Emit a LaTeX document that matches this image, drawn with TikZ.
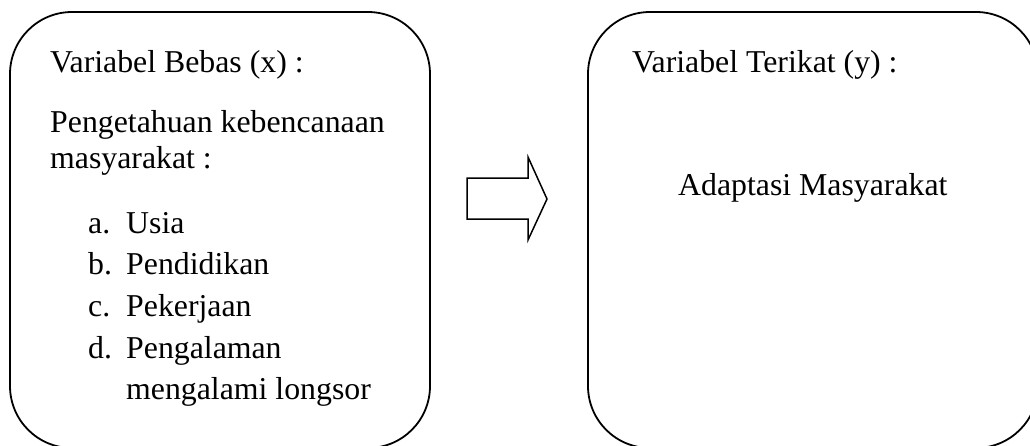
\documentclass[tikz,border=0pt]{standalone}
\usepackage{fontspec}
\setmainfont{Liberation Serif}
\begin{document}
\begin{tikzpicture}[x=1pt, y=-1pt,
  box/.style={draw, line width=1.8pt, rounded corners=62pt},
  txt/.style={anchor=base west, inner sep=0pt, font=\fontsize{31.8}{38}\selectfont},
  blockarrow/.style={draw, line width=1.5pt, line join=miter}]
\useasboundingbox (0,0) rectangle (1030,445);
\clip (0,0) rectangle (1030,445);

% the two variable boxes
\draw[box] (10,12) rectangle (430,448);
\draw[box] (588,12) rectangle (1038,448);
\coordinate (bebas) at (220,230);
\coordinate (terikat) at (813,230);

% independent variable
\node[txt] (bebasjudul) at (50,72) {Variabel Bebas (x) :};
\node[txt] (peng1) at (50,132) {Pengetahuan kebencanaan};
\node[txt] (peng2) at (50,168) {masyarakat :};
\node[txt] (la) at (88,233) {a.};
\node[txt] (ia) at (126,233) {Usia};
\node[txt] (lb) at (88,274) {b.};
\node[txt] (ib) at (126,274) {Pendidikan};
\node[txt] (lc) at (88,316) {c.};
\node[txt] (ic) at (126,316) {Pekerjaan};
\node[txt] (ld) at (88,358) {d.};
\node[txt] (id) at (126,358) {Pengalaman};
\node[txt] (id2) at (126,399) {mengalami longsor};

% dependent variable
\node[txt] (terikatjudul) at (632,72) {Variabel Terikat (y) :};
\node[txt] (adaptasi) at (678,195) {Adaptasi Masyarakat};

% block arrow between the boxes
\draw[blockarrow] (467,178) -- (528,178) -- (528,157) -- (547,199)
  -- (528,240) -- (528,219) -- (467,219) -- cycle;
\end{tikzpicture}
\end{document}
